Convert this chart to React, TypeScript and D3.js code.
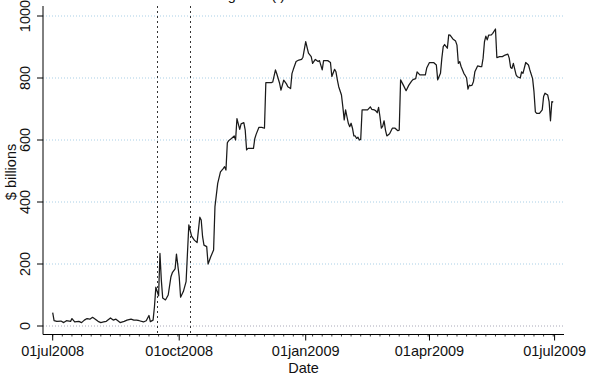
import React from "react";
import * as d3 from "d3";

const dates: string[] = [
  "2008-07-01","2008-07-02","2008-07-04","2008-07-07","2008-07-09","2008-07-11","2008-07-14","2008-07-15","2008-07-17","2008-07-20",
  "2008-07-22","2008-07-24","2008-07-26","2008-07-28","2008-07-30","2008-08-01","2008-08-03","2008-08-05","2008-08-07","2008-08-09",
  "2008-08-12","2008-08-14","2008-08-16","2008-08-19","2008-08-22","2008-08-24","2008-08-27","2008-08-29","2008-08-31","2008-09-02",
  "2008-09-05","2008-09-07","2008-09-09","2008-09-10","2008-09-12","2008-09-13","2008-09-14","2008-09-16","2008-09-17","2008-09-18",
  "2008-09-19","2008-09-21","2008-09-23","2008-09-25","2008-09-26","2008-09-28","2008-09-29","2008-10-01","2008-10-02","2008-10-04",
  "2008-10-06","2008-10-08","2008-10-10","2008-10-12","2008-10-14","2008-10-16","2008-10-17","2008-10-18","2008-10-19","2008-10-21",
  "2008-10-22","2008-10-24","2008-10-26","2008-10-27","2008-10-29","2008-10-31","2008-11-02","2008-11-03","2008-11-04","2008-11-05",
  "2008-11-06","2008-11-08","2008-11-10","2008-11-11","2008-11-12","2008-11-14","2008-11-15","2008-11-17","2008-11-18","2008-11-19",
  "2008-11-20","2008-11-22","2008-11-24","2008-11-25","2008-11-26","2008-11-28","2008-11-30","2008-12-02","2008-12-03","2008-12-05",
  "2008-12-07","2008-12-08","2008-12-10","2008-12-11","2008-12-13","2008-12-14","2008-12-16","2008-12-18","2008-12-19","2008-12-21",
  "2008-12-22","2008-12-23","2008-12-25","2008-12-27","2008-12-29","2008-12-30","2009-01-01","2009-01-03","2009-01-05","2009-01-06",
  "2009-01-08","2009-01-10","2009-01-11","2009-01-13","2009-01-14","2009-01-17","2009-01-19","2009-01-20","2009-01-22","2009-01-23",
  "2009-01-24","2009-01-25","2009-01-27","2009-01-28","2009-01-29","2009-01-30","2009-01-31","2009-02-01","2009-02-02","2009-02-03",
  "2009-02-04","2009-02-05","2009-02-06","2009-02-07","2009-02-08","2009-02-09","2009-02-10","2009-02-11","2009-02-13","2009-02-15",
  "2009-02-17","2009-02-18","2009-02-20","2009-02-21","2009-02-22","2009-02-23","2009-02-24","2009-02-25","2009-02-26","2009-02-27",
  "2009-02-28","2009-03-01","2009-03-03","2009-03-05","2009-03-07","2009-03-09","2009-03-10","2009-03-11","2009-03-13","2009-03-15",
  "2009-03-17","2009-03-19","2009-03-20","2009-03-22","2009-03-23","2009-03-25","2009-03-28","2009-03-29","2009-03-30","2009-04-01",
  "2009-04-04","2009-04-06","2009-04-07","2009-04-09","2009-04-10","2009-04-11","2009-04-12","2009-04-14","2009-04-15","2009-04-16",
  "2009-04-18","2009-04-20","2009-04-21","2009-04-22","2009-04-23","2009-04-24","2009-04-26","2009-04-27","2009-04-28","2009-04-29",
  "2009-04-30","2009-05-01","2009-05-02","2009-05-03","2009-05-04","2009-05-06","2009-05-08","2009-05-09","2009-05-10","2009-05-11",
  "2009-05-12","2009-05-13","2009-05-14","2009-05-16","2009-05-17","2009-05-19","2009-05-20","2009-05-22","2009-05-24","2009-05-26",
  "2009-05-28","2009-05-29","2009-05-30","2009-05-31","2009-06-01","2009-06-03","2009-06-04","2009-06-06","2009-06-07","2009-06-08",
  "2009-06-10","2009-06-12","2009-06-13","2009-06-15","2009-06-16","2009-06-17","2009-06-18","2009-06-20","2009-06-22","2009-06-23",
  "2009-06-24","2009-06-26","2009-06-27","2009-06-28","2009-06-29","2009-06-30",
];

const values: number[] = [
  43,17,15,16,11,17,15,24,13,15,
  11,19,24,22,28,22,15,11,13,15,
  26,19,22,11,15,19,22,19,19,17,
  13,17,34,14,19,62,125,97,234,148,
  90,84,100,159,172,184,232,159,93,111,
  143,326,290,277,269,351,342,288,261,256,
  200,224,245,385,460,497,508,514,503,591,
  598,605,613,600,669,634,652,656,632,568,
  573,573,573,605,619,641,641,638,785,785,
  785,787,826,813,783,761,793,781,772,766,
  814,828,853,858,860,867,917,880,869,847,
  860,853,856,826,856,856,850,805,828,820,
  794,772,745,707,665,697,675,654,643,654,
  638,613,613,605,609,600,602,697,697,697,
  707,699,697,694,688,705,675,638,645,662,
  632,613,620,638,638,630,632,794,777,759,
  777,790,795,798,820,810,810,810,832,850,
  850,842,794,815,864,901,908,896,939,938,
  926,919,906,847,853,837,815,808,800,764,
  777,775,777,789,820,839,837,837,864,917,
  935,923,938,939,944,958,866,869,869,874,
  877,864,834,831,847,810,804,800,820,815,
  850,842,826,798,756,691,686,686,697,740,
  751,745,724,662,724,722,
];

const xTickDates: string[] = ["2008-07-01", "2008-10-01", "2009-01-01", "2009-04-01", "2009-07-01"];
const xTickLabels: string[] = ["01jul2008", "01oct2008", "01jan2009", "01apr2009", "01jul2009"];
const yTicks: number[] = [0, 200, 400, 600, 800, 1000];
const eventDates: string[] = ["2008-09-15", "2008-10-09"];

const W = 600;
const H = 376;
const FONT = "'Liberation Sans', Arial, Helvetica, sans-serif";

export default function App() {
  const parse = d3.timeParse("%Y-%m-%d");
  const data = dates.map((d, i) => ({ date: parse(d) as Date, value: values[i] }));

  const axisLeftX = 43;
  const axisBottomY = 334.5;
  const plotRight = 564;
  const plotTop = 6;

  const x = d3
    .scaleTime()
    .domain([parse("2008-07-01") as Date, parse("2009-07-01") as Date])
    .range([52.7, 554.6]);
  const y = d3.scaleLinear().domain([0, 1000]).range([326, 16]);

  const line = d3
    .line<{ date: Date; value: number }>()
    .x((d) => x(d.date))
    .y((d) => y(d.value));

  const minorTicks = d3.timeDay.range(parse("2008-07-01") as Date, parse("2009-07-03") as Date, 7);

  return (
    <div style={{ position: "fixed", left: 0, top: 0, width: W, height: H, background: "#fff" }}>
      <svg width={W} height={H} style={{ display: "block", fontFamily: FONT }}>
        <rect x={0} y={0} width={W} height={H} fill="#fff" />
        {/* title, cut off at top */}
        <text x={285} y={0.3} textAnchor="end" fontSize={14.5} fill="#111">
          Outstanding total (t)
        </text>
        {/* gridlines */}
        {yTicks.map((t) => (
          <line
            key={"g" + t}
            x1={axisLeftX}
            x2={plotRight}
            y1={y(t)}
            y2={y(t)}
            stroke={t === 0 ? "#a8a8b8" : "#a9cfe6"}
            strokeWidth={1}
            strokeDasharray="1 2"
          />
        ))}
        {/* event lines */}
        {eventDates.map((d) => {
          const xx = Math.round(x(parse(d) as Date)) + 0.5;
          return (
            <line
              key={"e" + d}
              x1={xx}
              x2={xx}
              y1={plotTop}
              y2={axisBottomY}
              stroke="#333"
              strokeWidth={1}
              strokeDasharray="2 3"
            />
          );
        })}
        {/* series line */}
        <path d={line(data) || ""} fill="none" stroke="#1a1a1a" strokeWidth={1.25} strokeLinejoin="round" />
        {/* axes */}
        <line x1={axisLeftX} x2={axisLeftX} y1={plotTop} y2={axisBottomY} stroke="#000" strokeWidth={1} />
        <line x1={axisLeftX} x2={plotRight} y1={axisBottomY} y2={axisBottomY} stroke="#000" strokeWidth={1} />
        {yTicks.map((t) => (
          <g key={"yt" + t}>
            <line x1={axisLeftX - 6} x2={axisLeftX} y1={y(t)} y2={y(t)} stroke="#000" strokeWidth={1} />
            <text
              transform={`translate(30,${y(t)}) rotate(-90)`}
              textAnchor="middle"
              fontSize={14.5}
              fill="#111"
            >
              {t}
            </text>
          </g>
        ))}
        {minorTicks.map((d, i) => (
          <line
            key={"mt" + i}
            x1={x(d)}
            x2={x(d)}
            y1={axisBottomY}
            y2={axisBottomY + 2}
            stroke="#000"
            strokeWidth={0.8}
          />
        ))}
        {xTickDates.map((d, i) => {
          const xx = x(parse(d) as Date);
          return (
            <g key={"xt" + d}>
              <line x1={xx} x2={xx} y1={axisBottomY} y2={axisBottomY + 6} stroke="#000" strokeWidth={1} />
              <text x={xx} y={355.5} textAnchor="middle" fontSize={14.5} fill="#111">
                {xTickLabels[i]}
              </text>
            </g>
          );
        })}
        <text x={(axisLeftX + plotRight) / 2} y={373} textAnchor="middle" fontSize={14.5} fill="#111">
          Date
        </text>
        <text transform={`translate(16,172) rotate(-90)`} textAnchor="middle" fontSize={14.5} fill="#111">
          $ billions
        </text>
      </svg>
    </div>
  );
}
